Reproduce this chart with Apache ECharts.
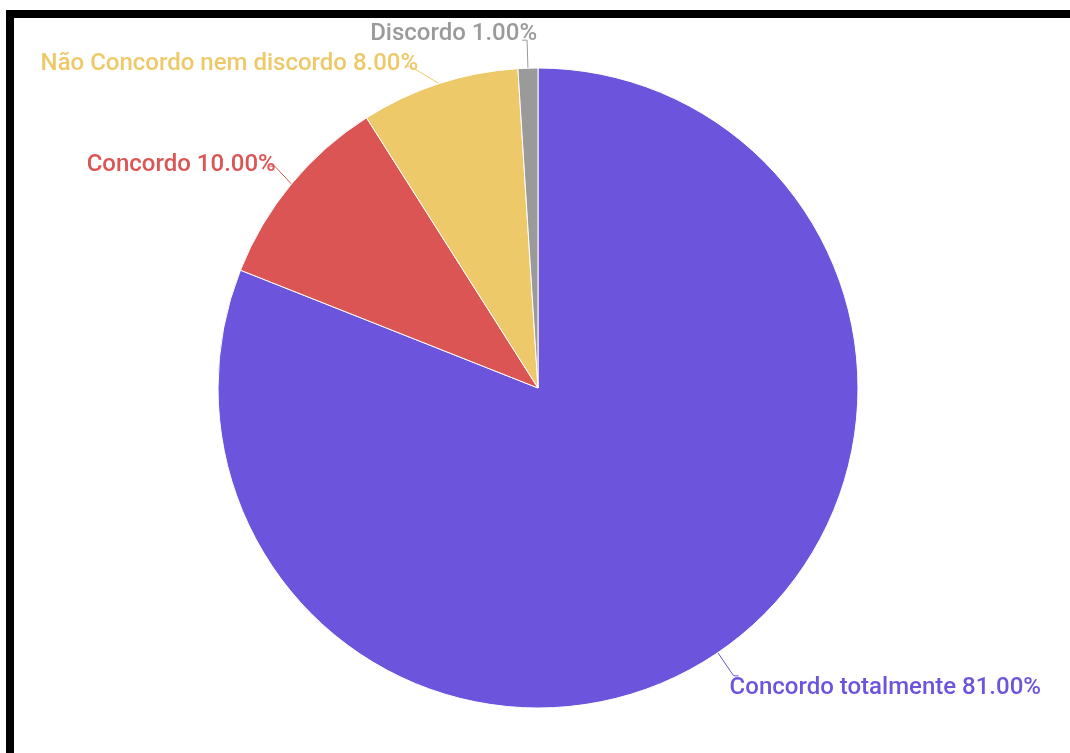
<!DOCTYPE html>
<html>
<head>
<meta charset="utf-8">
<script src="https://cdn.jsdelivr.net/npm/echarts@6/dist/echarts.min.js"></script>
<style>
html,body{margin:0;padding:0;background:#fff;}
#chart{position:absolute;left:0;top:0;width:1070px;height:753px;}
#frame{position:absolute;left:6px;top:10px;width:2000px;height:2000px;border:8px solid #000;box-sizing:border-box;pointer-events:none;}
</style>
</head>
<body>
<div id="chart"></div>
<div id="frame"></div>
<script>
const categories = ['Concordo totalmente', 'Concordo', 'Não Concordo nem discordo', 'Discordo'];
const values = [81, 10, 8, 1];
const colors = ['#6c55dc', '#dc5555', '#eec96a', '#9a9a9a'];
// small label nudges (dx, dy) to mimic the original label placement
const labelShiftX = [-14, 11, 18, 20];
const labelShiftY = [12, -1, -2, -6];

const chart = echarts.init(document.getElementById('chart'), null, {renderer: 'canvas'});
chart.setOption({
  animation: false,
  series: [{
    type: 'pie',
    center: [538, 388],
    radius: [0, 320],
    startAngle: 90,
    clockwise: true,
    data: categories.map((c, i) => ({
      name: c, value: values[i],
      itemStyle: {color: colors[i]},
      label: {color: colors[i]},
      labelLine: {lineStyle: {color: colors[i]}}
    })),
    itemStyle: {borderColor: '#fff', borderWidth: 1},
    label: {
      show: true,
      fontFamily: 'Roboto',
      fontSize: 24,
      fontWeight: 500,
      formatter: p => p.name + ' ' + p.percent.toFixed(2) + '%'
    },
    labelLine: {show: true, length: 28, length2: 5, lineStyle: {width: 1}},
    labelLayout: p => ({dx: labelShiftX[p.dataIndex], dy: labelShiftY[p.dataIndex]})
  }]
});
</script>
</body>
</html>
